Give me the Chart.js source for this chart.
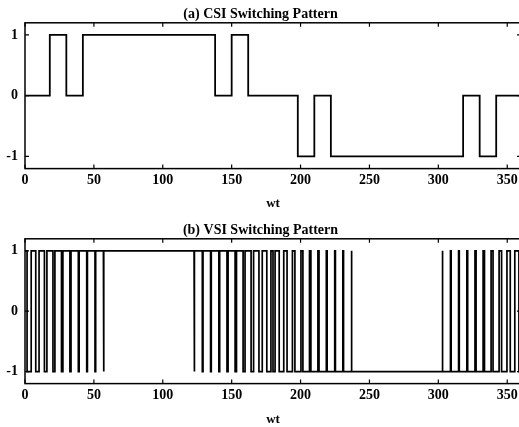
<!DOCTYPE html>
<html lang="en">
<head>
    <meta charset="UTF-8">
    <title>CSI / VSI Switching Pattern</title>
    <script src="https://cdn.jsdelivr.net/npm/chart.js"></script>
    <style>
        body {
            margin: 0;
            padding: 0;
            background: white;
            overflow: hidden;
        }
        .plot {
            position: relative;
            width: 521px;
        }
        #topBox { height: 211px; }
        #botBox { height: 216px; }
        canvas { display: block; }
    </style>
</head>
<body>

    <div class="plot" id="topBox"><canvas id="csiChart"></canvas></div>
    <div class="plot" id="botBox"><canvas id="vsiChart"></canvas></div>

    <script>
        // x axis ticks (degrees)
        const xTicks = [0, 50, 100, 150, 200, 250, 300, 350];
        const yTicks = [-1, 0, 1];

        // (a) CSI: switching angle and the level that holds after it
        const csiAngles = [0, 18, 30, 42, 138, 150, 162, 198, 210, 222, 318, 330, 342];
        const csiLevels = [0, 1, 0, 1, 0, 1, 0, -1, 0, -1, 0, -1, 0];

        // (b) VSI: starts at +1, toggles between +1 and -1 at each edge
        const vsiStart = 1;
        const vsiEdges = [
            1.5, 4.5, 7.8, 10.2, 14.1, 15.9, 20.3, 21.7, 26.5, 27.5,
            32.6, 33.4, 38.7, 39.3, 44.8, 45.3, 50.8, 51.3, 56.9, 57.3,
            122.7, 123.1, 128.7, 129.2, 134.7, 135.2, 140.7, 141.3, 146.6, 147.4,
            152.5, 153.5, 158.3, 159.7, 164.1, 165.9, 169.8, 172.2, 175.5, 178.5,
            180.0,
            181.5, 184.5, 187.8, 190.2, 194.1, 195.9, 200.3, 201.7, 206.5, 207.5,
            212.6, 213.4, 218.7, 219.3, 224.8, 225.3, 230.7, 231.2, 236.8, 237.2,
            302.8, 303.2, 308.8, 309.3, 314.7, 315.2, 320.7, 321.3, 326.6, 327.4,
            332.5, 333.5, 338.3, 339.7, 344.1, 345.9, 349.8, 352.2, 355.5, 358.5
        ];
        const xEnd = 360;

        // step points: vertical jump at each edge
        const csiPoints = [];
        for (let i = 0; i < csiAngles.length; i++) {
            if (i > 0) csiPoints.push({ x: csiAngles[i], y: csiLevels[i - 1] });
            csiPoints.push({ x: csiAngles[i], y: csiLevels[i] });
        }
        csiPoints.push({ x: xEnd, y: csiLevels[csiLevels.length - 1] });

        const vsiPoints = [{ x: 0, y: vsiStart }];
        let lvl = vsiStart;
        vsiEdges.forEach(e => {
            vsiPoints.push({ x: e, y: lvl });
            lvl = -lvl;
            vsiPoints.push({ x: e, y: lvl });
        });
        vsiPoints.push({ x: xEnd, y: lvl });

        // box around plot area + inward tick marks (matlab look)
        const framePlugin = {
            id: 'frame',
            afterDraw(chart) {
                const { ctx, chartArea: a, scales } = chart;
                ctx.save();
                ctx.strokeStyle = '#000';
                ctx.lineWidth = 1.5;
                ctx.strokeRect(a.left, a.top, a.right - a.left, a.bottom - a.top);
                ctx.lineWidth = 1.2;
                ctx.beginPath();
                xTicks.forEach(v => {
                    const px = scales.x.getPixelForValue(v);
                    ctx.moveTo(px, a.bottom); ctx.lineTo(px, a.bottom - 4);
                    ctx.moveTo(px, a.top); ctx.lineTo(px, a.top + 4);
                });
                yTicks.forEach(v => {
                    const py = scales.y.getPixelForValue(v);
                    ctx.moveTo(a.left, py); ctx.lineTo(a.left + 4, py);
                    ctx.moveTo(a.right, py); ctx.lineTo(a.right - 4, py);
                });
                ctx.stroke();
                ctx.restore();
            }
        };

        const serif = 'Liberation Serif';

        function makeOptions(title, titlePadTop, xTitlePad) {
            return {
                responsive: true,
                maintainAspectRatio: false,
                animation: false,
                layout: { padding: 0 },
                scales: {
                    x: {
                        type: 'linear',
                        min: 0,
                        max: xEnd,
                        grid: { display: false, drawTicks: false },
                        border: { display: false },
                        afterBuildTicks: s => { s.ticks = xTicks.map(v => ({ value: v })); },
                        ticks: { color: '#000', padding: 3, maxRotation: 0, autoSkip: false,
                                 font: { family: serif, size: 14, weight: 'bold' } },
                        title: { display: true, text: 'wt', color: '#000', padding: xTitlePad,
                                 font: { family: serif, size: 13, weight: 'bold' } }
                    },
                    y: {
                        min: -1.2,
                        max: 1.2,
                        grid: { display: false, drawTicks: false },
                        border: { display: false },
                        afterBuildTicks: s => { s.ticks = yTicks.map(v => ({ value: v })); },
                        afterFit: s => { s.width = 25; },
                        ticks: { color: '#000', padding: 7,
                                 font: { family: serif, size: 14, weight: 'bold' } }
                    }
                },
                plugins: {
                    legend: { display: false },
                    tooltip: { enabled: false },
                    title: { display: true, text: title, color: '#000',
                             padding: { top: titlePadTop, bottom: 0 },
                             font: { family: serif, size: 14, weight: 'bold' } }
                }
            };
        }

        new Chart(document.getElementById('csiChart'), {
            type: 'line',
            data: {
                datasets: [{ data: csiPoints, borderColor: '#000', borderWidth: 1.8,
                             pointRadius: 0, fill: false, tension: 0 }]
            },
            options: makeOptions('(a) CSI Switching Pattern', 6, { top: 4, bottom: 0 }),
            plugins: [framePlugin]
        });

        new Chart(document.getElementById('vsiChart'), {
            type: 'line',
            data: {
                datasets: [{ data: vsiPoints, borderColor: '#000', borderWidth: 1.7,
                             pointRadius: 0, fill: false, tension: 0 }]
            },
            options: makeOptions('(b) VSI Switching Pattern', 11, { top: 5, bottom: 0 }),
            plugins: [framePlugin]
        });
    </script>

</body>
</html>
